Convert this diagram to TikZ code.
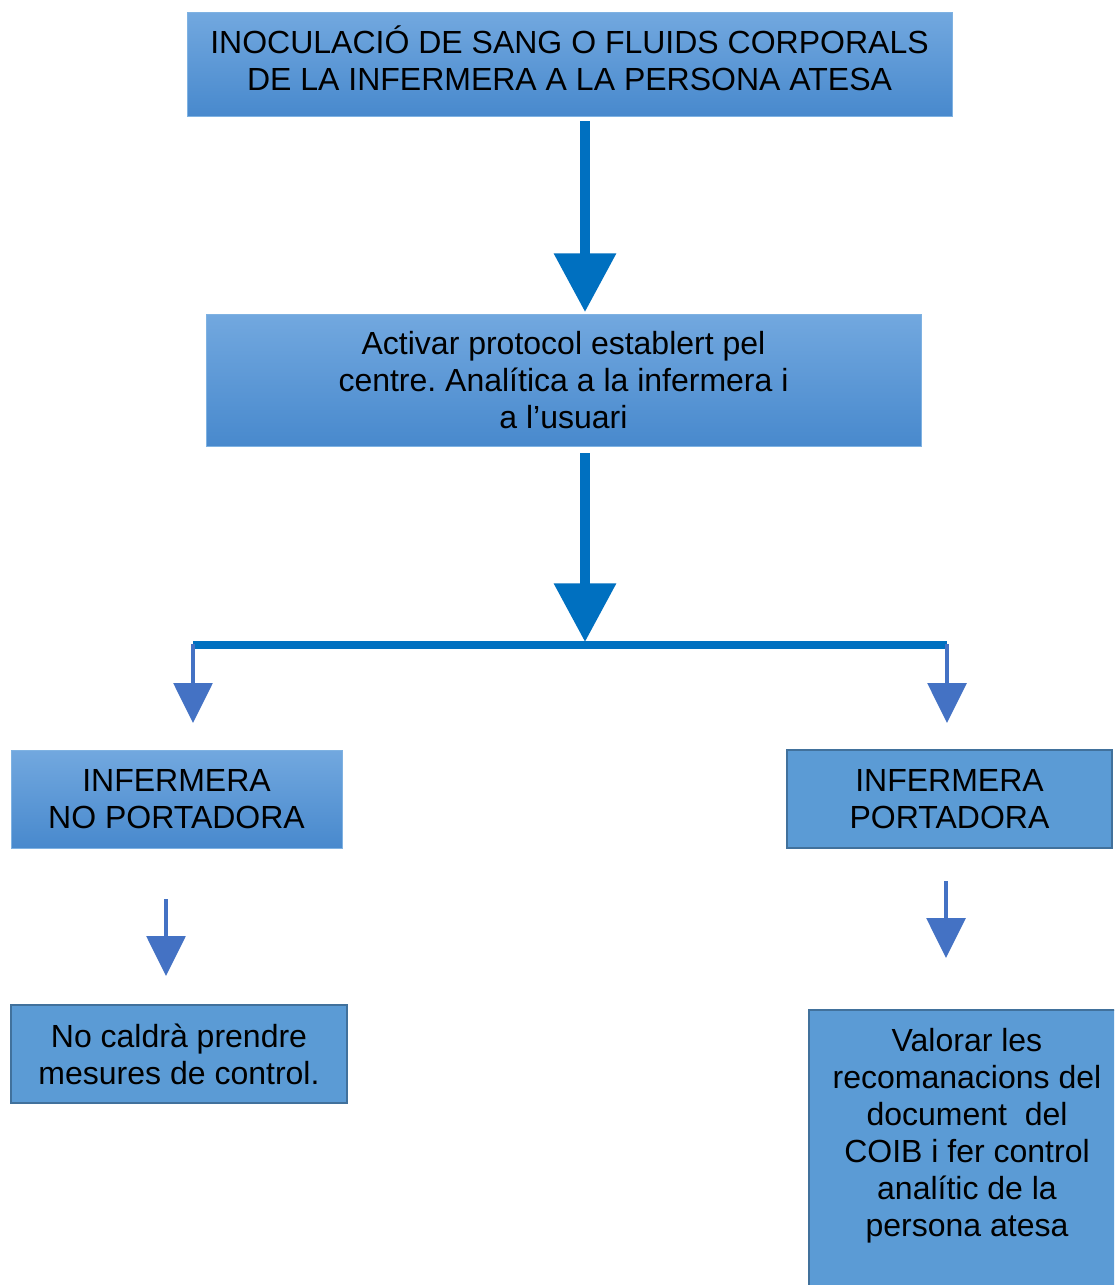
\documentclass[tikz,border=0pt]{standalone}
\usepackage{fontspec}
\setmainfont{Liberation Sans}
\usetikzlibrary{arrows.meta}
\frenchspacing
\definecolor{arrowdark}{HTML}{0070C0}
\definecolor{arrowlight}{HTML}{4472C4}
\definecolor{gradtop}{HTML}{72A8DF}
\definecolor{gradbot}{HTML}{4889CD}
\definecolor{gradedge}{HTML}{7FB2E2}
\definecolor{flatfill}{HTML}{5B9BD5}
\definecolor{flatedge}{HTML}{41719C}
\tikzset{
  gradbox/.style={draw=gradedge, line width=0.75pt, top color=gradtop, bottom color=gradbot, shading angle=0,
    inner sep=0pt, align=center, font=\fontsize{24}{27.75}\selectfont},
  flatbox/.style={draw=flatedge, line width=1.5pt, fill=flatfill,
    inner sep=0pt, align=center, font=\fontsize{24}{27.75}\selectfont},
  bigarrow/.style={draw=arrowdark, line width=7.5pt, -{Triangle[length=44pt 0, width=45pt 0, fill=arrowdark]}},
  smallarrow/.style={draw=arrowlight, line width=3pt, -{Triangle[length=30pt 0, width=29pt 0, fill=arrowlight]}},
  plaintext/.style={inner sep=0pt, align=center, font=\fontsize{24}{27.75}\selectfont},
}
\begin{document}
\begin{tikzpicture}[x=0.75pt, y=-0.75pt]
\clip (0,0) rectangle (1114,1285);
\fill[white] (0,0) rectangle (1114,1285);

\node[gradbox, minimum width=573.75pt, minimum height=78pt] (top) at (569.5,64) {};
\node[plaintext] (toptext) at (569.5,58)
  {INOCULACIÓ DE SANG O FLUIDS CORPORALS\\DE LA INFERMERA A LA PERSONA ATESA};
\node[gradbox, minimum width=536.25pt, minimum height=99pt] (mid) at (563.5,380)
  {Activar protocol establert pel\\centre. Analítica a la infermera i\\a l’usuari};
\node[gradbox, minimum width=248.25pt, minimum height=73.5pt] (nop) at (176.5,799)
  {INFERMERA\\NO PORTADORA};
\node[flatbox, minimum width=243.75pt, minimum height=73.5pt] (por) at (949.5,799)
  {INFERMERA\\PORTADORA};
\node[flatbox, minimum width=252pt, minimum height=73.5pt] (nocal) at (179,1054)
  {No caldrà prendre\\mesures de control.};
\node[flatbox, minimum width=238.5pt, minimum height=219pt, anchor=north west] (val) at (808,1009) {};
\node[plaintext] (valtext) at (967,1136)
  {Valorar les\\recomanacions del\\document\ \ del\\COIB i fer control\\analític de la\\persona atesa};

% big arrows
\coordinate (a1s) at (585,121);
\coordinate (a1e) at (585,312);
\draw[bigarrow] (a1s) -- (a1e);
\coordinate (a2s) at (585,453);
\coordinate (a2e) at (585,642);
\draw[bigarrow] (a2s) -- (a2e);

% splitter
\coordinate (hl) at (193,645);
\coordinate (hr) at (947,645);
\draw[arrowdark, line width=6pt] (hl) -- (hr);

\coordinate (lt) at (193,723);
\coordinate (rt) at (947,723);
\draw[smallarrow] (193,644) -- (lt);
\draw[smallarrow] (947,644) -- (rt);

% lower arrows
\coordinate (l2s) at (166,899);
\coordinate (l2e) at (166,976);
\draw[smallarrow] (l2s) -- (l2e);
\coordinate (r2s) at (946,881);
\coordinate (r2e) at (946,958);
\draw[smallarrow] (r2s) -- (r2e);
\end{tikzpicture}
\end{document}
